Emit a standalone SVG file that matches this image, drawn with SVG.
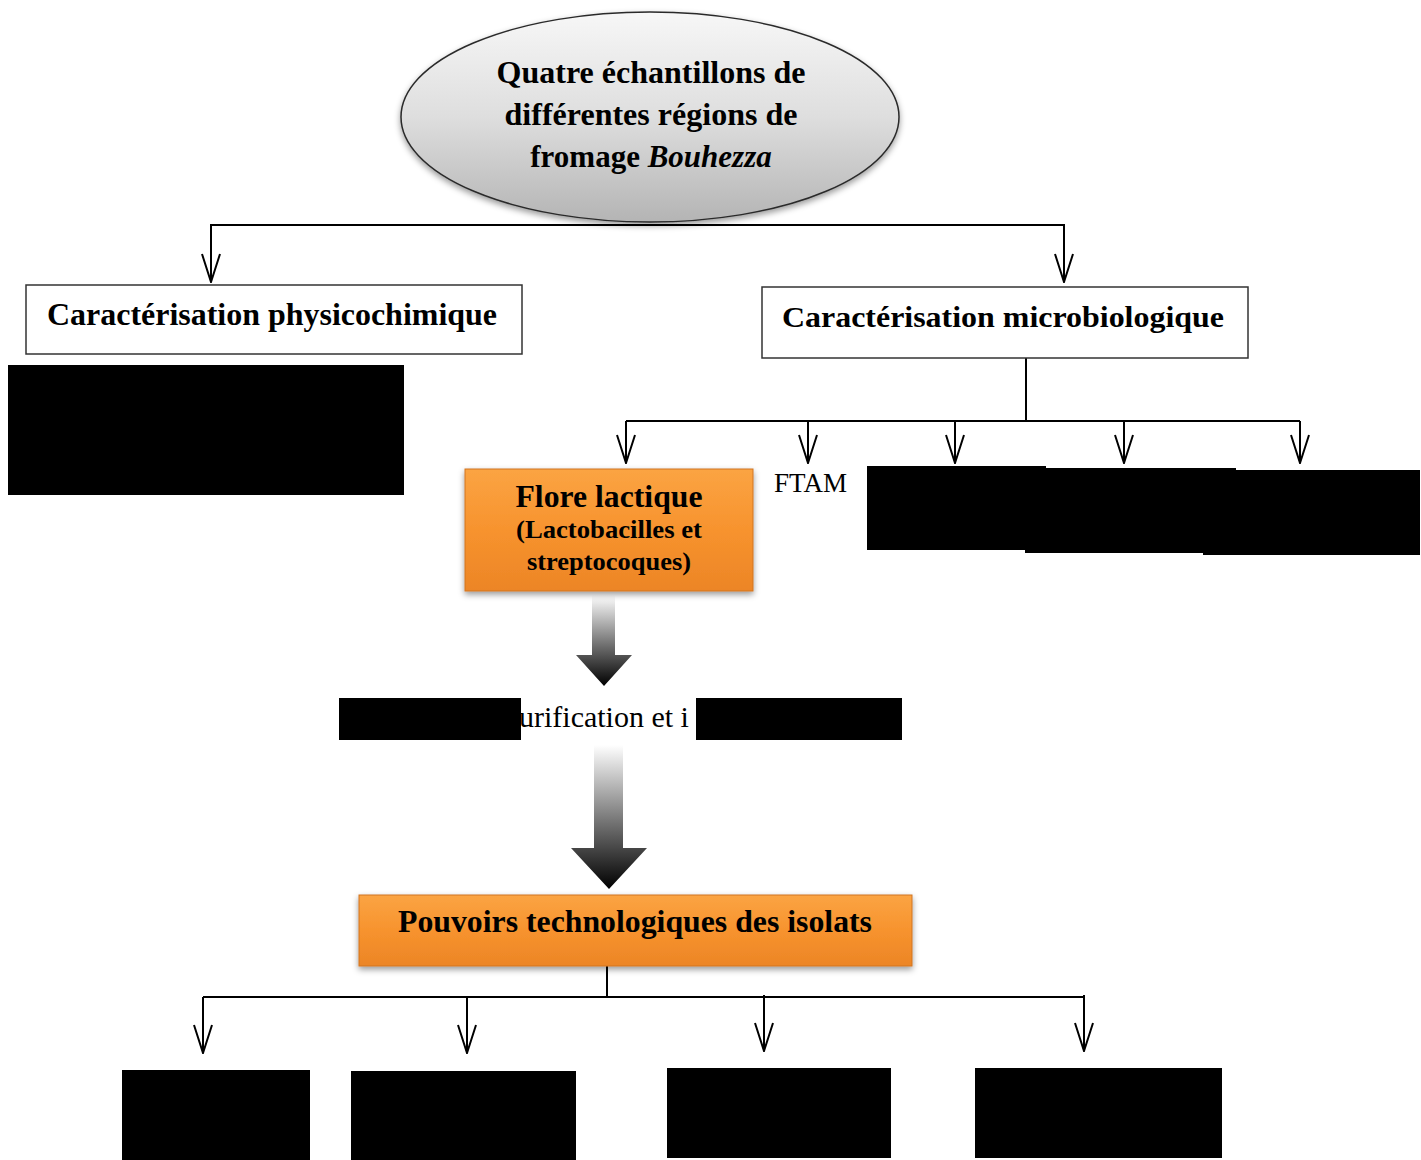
<svg xmlns="http://www.w3.org/2000/svg" width="1421" height="1160" viewBox="0 0 1421 1160">
<defs>
<style>
.b{font-family:"Liberation Serif","Times New Roman",serif;font-weight:bold;fill:#000}
.r{font-family:"Liberation Serif","Times New Roman",serif;fill:#000}
.ln{stroke:#000;stroke-width:2;fill:none}
.bx{fill:#fff;stroke:#333;stroke-width:1.5}
.red{fill:#000}
</style>
<linearGradient id="gEl" x1="0" y1="0" x2="0" y2="1">
<stop offset="0" stop-color="#f7f7f7"/>
<stop offset="0.5" stop-color="#dedede"/>
<stop offset="1" stop-color="#b4b4b4"/>
</linearGradient>
<linearGradient id="gOr" x1="0" y1="0" x2="0" y2="1">
<stop offset="0" stop-color="#fba443"/>
<stop offset="0.5" stop-color="#f7932e"/>
<stop offset="1" stop-color="#ec8526"/>
</linearGradient>
<linearGradient id="gAr" x1="0" y1="0" x2="0" y2="1">
<stop offset="0" stop-color="#ffffff"/>
<stop offset="0.55" stop-color="#707070"/>
<stop offset="1" stop-color="#000000"/>
</linearGradient>
<filter id="sh" x="-10%" y="-10%" width="120%" height="130%">
<feDropShadow dx="0" dy="3" stdDeviation="3" flood-color="#000" flood-opacity="0.4"/>
</filter>
<marker id="ah" viewBox="0 0 30 20" refX="29" refY="10" markerWidth="30" markerHeight="20" markerUnits="userSpaceOnUse" orient="auto-start-reverse">
<path d="M1,1 L29,10 L1,19" fill="none" stroke="#000" stroke-width="2"/>
</marker>
</defs>

<g id="connectors">
<polyline class="ln" points="211,282 211,225 1064,225 1064,282" marker-start="url(#ah)" marker-end="url(#ah)"/>
<line class="ln" x1="1026" y1="358" x2="1026" y2="421"/>
<line class="ln" x1="626" y1="421" x2="1300" y2="421"/>
<line class="ln" x1="626" y1="421" x2="626" y2="463" marker-end="url(#ah)"/>
<line class="ln" x1="808" y1="421" x2="808" y2="463" marker-end="url(#ah)"/>
<line class="ln" x1="955" y1="421" x2="955" y2="463" marker-end="url(#ah)"/>
<line class="ln" x1="1124" y1="421" x2="1124" y2="463" marker-end="url(#ah)"/>
<line class="ln" x1="1300" y1="421" x2="1300" y2="463" marker-end="url(#ah)"/>
<path d="M592,595 L615,595 L615,655 L632,655 L604,686 L576,655 L592,655 Z" fill="url(#gAr)"/>
<path d="M594,745 L623,745 L623,848 L647,848 L609,889 L571,848 L594,848 Z" fill="url(#gAr)"/>
<line class="ln" x1="607" y1="966" x2="607" y2="997"/>
<line class="ln" x1="203" y1="997" x2="1085" y2="997"/>
<line class="ln" x1="203" y1="997" x2="203" y2="1053" marker-end="url(#ah)"/>
<line class="ln" x1="467" y1="997" x2="467" y2="1053" marker-end="url(#ah)"/>
<line class="ln" x1="764" y1="995" x2="764" y2="1051" marker-end="url(#ah)"/>
<line class="ln" x1="1084" y1="995" x2="1084" y2="1051" marker-end="url(#ah)"/>
</g>

<g id="n-source">
<ellipse cx="650" cy="117" rx="249" ry="105" fill="url(#gEl)" stroke="#2a2a2a" stroke-width="1.5" filter="url(#sh)"/>
<text class="b" x="651" y="83" font-size="31" text-anchor="middle" textLength="309" lengthAdjust="spacingAndGlyphs">Quatre échantillons de</text>
<text class="b" x="651" y="125" font-size="31" text-anchor="middle" textLength="293" lengthAdjust="spacingAndGlyphs">différentes régions de</text>
<text class="b" x="651" y="167" font-size="31" text-anchor="middle">fromage <tspan font-style="italic">Bouhezza</tspan></text>
</g>

<g id="n-physico">
<rect class="bx" x="26" y="285" width="496" height="69"/>
<text class="b" x="272" y="325" font-size="31" text-anchor="middle" textLength="450" lengthAdjust="spacingAndGlyphs">Caractérisation physicochimique</text>
</g>
<rect class="red" x="8" y="365" width="396" height="130"/>

<g id="n-micro">
<rect class="bx" x="762" y="287" width="486" height="71"/>
<text class="b" x="1003" y="327" font-size="30" text-anchor="middle" textLength="442" lengthAdjust="spacingAndGlyphs">Caractérisation microbiologique</text>
</g>

<g id="n-flore">
<rect x="465" y="469" width="288" height="122" fill="url(#gOr)" stroke="#d07420" stroke-width="1" filter="url(#sh)"/>
<text class="b" x="609" y="507" font-size="31" text-anchor="middle" textLength="187" lengthAdjust="spacingAndGlyphs">Flore lactique</text>
<text class="b" x="609" y="538" font-size="25" text-anchor="middle" textLength="186" lengthAdjust="spacingAndGlyphs">(Lactobacilles et</text>
<text class="b" x="609" y="570" font-size="25" text-anchor="middle" textLength="164" lengthAdjust="spacingAndGlyphs">streptocoques)</text>
</g>

<g id="n-ftam">
<text class="r" x="774" y="492" font-size="27" textLength="73" lengthAdjust="spacingAndGlyphs">FTAM</text>
</g>
<rect class="red" x="867" y="466" width="179" height="84"/>
<rect class="red" x="1025" y="468" width="211" height="85"/>
<rect class="red" x="1203" y="470" width="217" height="85"/>

<g id="n-purif">
<text class="r" x="519" y="727" font-size="30">urification et i</text>
</g>
<rect class="red" x="339" y="698" width="182" height="42"/>
<rect class="red" x="696" y="698" width="206" height="42"/>

<g id="n-pouvoirs">
<rect x="359" y="895" width="553" height="71" fill="url(#gOr)" stroke="#d07420" stroke-width="1" filter="url(#sh)"/>
<text class="b" x="635" y="932" font-size="31" text-anchor="middle" textLength="474" lengthAdjust="spacingAndGlyphs">Pouvoirs technologiques des isolats</text>
</g>

<rect class="red" x="122" y="1070" width="188" height="90"/>
<rect class="red" x="351" y="1071" width="225" height="89"/>
<rect class="red" x="667" y="1068" width="224" height="90"/>
<rect class="red" x="975" y="1068" width="247" height="90"/>
</svg>
